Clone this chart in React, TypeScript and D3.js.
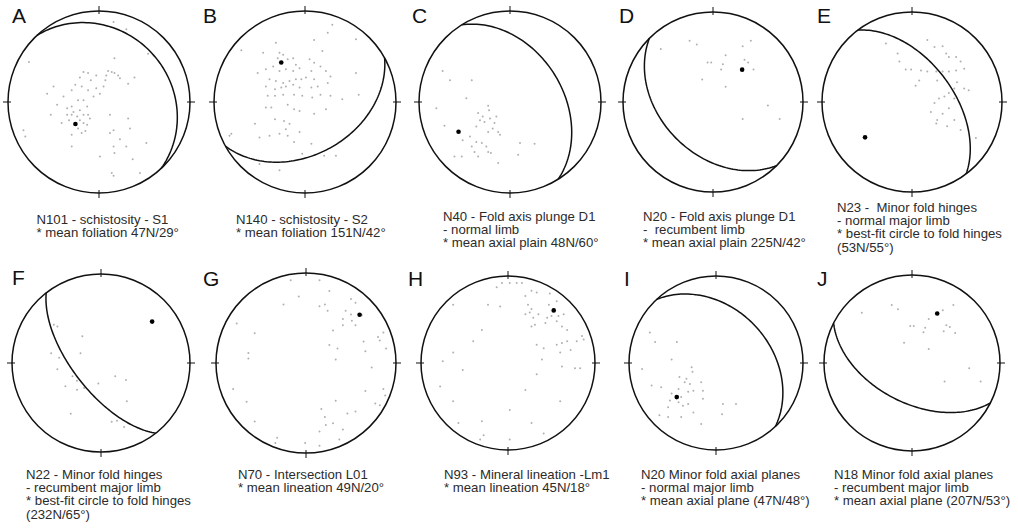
import React from "react";
import * as d3 from "d3";

const W = 1018;
const H = 532;

// panel letters and caption lines
const letters = ["A", "B", "C", "D", "E", "F", "G", "H", "I", "J"];
const captions = [
  ["N101 - schistosity - S1", "* mean foliation 47N/29°"],
  ["N140 - schistosity - S2", "* mean foliation 151N/42°"],
  ["N40 - Fold axis plunge D1", "- normal limb", "* mean axial plain 48N/60°"],
  ["N20 - Fold axis plunge D1", "-  recumbent limb", "* mean axial plain 225N/42°"],
  ["N23 -  Minor fold hinges", "- normal major limb", "* best-fit circle to fold hinges", "(53N/55°)"],
  ["N22 - Minor fold hinges", "- recumbent major limb", "* best-fit circle to fold hinges", "(232N/65°)"],
  ["N70 - Intersection L01", "* mean lineation 49N/20°"],
  ["N93 - Mineral lineation -Lm1", "* mean lineation 45N/18°"],
  ["N20 Minor fold axial planes", "- normal major limb", "* mean axial plane (47N/48°)"],
  ["N18 Minor fold axial planes", "- recumbent major limb", "* mean axial plane (207N/53°)"],
];

// great circles drawn on each net: [dip direction, dip] (null = none)
const planes: ([number, number] | null)[] = [
  [47, 22], [151, 42], [58, 42], [225, 42], [53, 53],
  [232, 65], null, null, [47, 38], [207, 53],
];

// black mean point: [trend, plunge]
const means = [
  [227, 61], [329, 48], [240, 35], [42, 50], [233, 35],
  [51, 27], [48, 21], [41, 21], [229, 40], [27, 37],
];

// grey data points, [east, north] in % of net radius
const ptsA = [[16,88],[30,80],[17,48],[54,53],[60,51],[-77,44],[-17,33],[-12,32],[-21,27],[10,34],[14,33],[17,32],[21,29],[8,29],[7,24],[-3,29],[-9,24],[39,27],[32,20],[23,26],[-3,15],[-12,13],[-19,17],[-26,19],[-30,13],[-39,6],[-50,17],[-57,9],[1,9],[5,17],[-6,6],[-17,2],[-23,2],[-35,-7],[-30,-5],[-28,-11],[-21,-9],[-13,-5],[-35,-14],[-30,-14],[-24,-16],[-17,-14],[-12,-14],[-33,-20],[-21,-20],[-17,-23],[-13,-25],[-10,-18],[-23,-29],[-15,-32],[-30,-36],[-19,-34],[-30,-49],[-46,-3],[-53,-14],[-41,-23],[-83,-31],[-81,-38],[12,-14],[32,-18],[34,-29],[16,-31],[12,-34],[23,-41],[16,-49],[30,-49],[37,-63],[52,-45],[45,-78],[14,-78],[16,-81],[1,-60],[17,-56]];
const ptsB = [[30,85],[25,76],[56,69],[10,68],[-32,65],[-70,57],[-46,54],[-28,54],[-24,52],[-30,48],[-19,47],[-13,48],[19,56],[-10,41],[-6,37],[-35,39],[-43,36],[-52,32],[-28,34],[-21,36],[-13,34],[5,47],[10,43],[17,39],[7,34],[23,34],[28,28],[10,25],[1,27],[-4,25],[-10,25],[-17,23],[-24,21],[-32,23],[-39,25],[-43,17],[-33,14],[-26,16],[-21,17],[-13,19],[-6,16],[7,16],[14,17],[25,21],[56,32],[59,8],[-41,7],[-33,7],[-24,8],[-12,8],[-3,7],[8,5],[17,8],[28,7],[-43,-6],[-37,-6],[-19,-3],[-12,-8],[-6,-10],[10,-13],[-55,-24],[-33,-19],[-23,-21],[-17,-24],[-21,-30],[-28,-35],[-19,-37],[-6,-33],[-12,-44],[-50,-39],[-39,-37],[-83,-37],[7,-46],[21,-59],[34,-59],[-3,-57],[-50,-68],[-28,-75],[23,-8],[41,3],[-81,-35]];
const ptsC = [[-74,34],[-66,24],[-42,24],[-48,4],[-81,-7],[-24,-4],[-23,-9],[-35,-12],[-30,-16],[-33,-20],[-28,-22],[-22,-18],[-15,-16],[-17,-23],[-72,-26],[-37,-27],[-24,-33],[-19,-29],[-13,-33],[-44,-38],[-37,-44],[-31,-45],[-26,-49],[-42,-49],[-39,-55],[-52,-42],[-11,-36],[11,-45],[27,-46],[-61,-60],[-53,-60],[-35,-60],[-24,-55],[-21,-56],[-13,-67],[9,-58]];
const ptsD = [[-26,68],[-18,64],[-58,59],[33,62],[42,68],[14,52],[-6,44],[-2,44],[11,42],[9,36],[35,47],[39,44],[45,36],[-12,25],[14,17],[61,-4],[33,-19],[74,-19]];
const ptsE = [[-29,65],[17,69],[25,61],[34,62],[-16,54],[38,54],[41,50],[49,50],[54,45],[-14,45],[-7,36],[-1,36],[10,35],[17,34],[27,34],[34,34],[41,34],[49,35],[58,37],[8,24],[28,24],[4,18],[47,15],[58,15],[63,13],[41,10],[36,6],[30,4],[47,4],[25,-1],[21,-11],[34,-13],[28,-20],[27,-24],[39,-27],[47,-20],[54,-31],[71,-40],[41,-7],[50,22]];
const ptsF = [[-53,43],[-49,41],[-21,30],[-23,11],[-56,11],[-47,6],[-49,-7],[-32,-15],[-27,-20],[-40,-26],[-27,-30],[-19,-28],[-3,-23],[16,-15],[28,-19],[29,-43],[-34,-57],[12,-66],[18,-65],[26,-72]];
const ptsG = [[-17,92],[15,92],[-8,74],[26,80],[-25,65],[15,63],[21,65],[24,58],[50,71],[55,67],[44,58],[50,54],[41,49],[51,47],[55,42],[-77,44],[62,53],[30,36],[41,42],[86,34],[-57,33],[80,29],[82,25],[26,20],[35,16],[64,24],[66,13],[-64,11],[-64,5],[33,4],[89,16],[73,-5],[66,-31],[86,-29],[88,-36],[-81,-29],[33,-42],[-66,-43],[17,-51],[46,-56],[55,-54],[77,-45],[82,-47],[-57,-65],[21,-60],[22,-69],[30,-67],[15,-76],[41,-74],[-32,-83],[-34,-89],[-1,-89],[15,-92],[37,-85]];
const ptsH = [[-7,92],[2,92],[10,92],[16,92],[-13,87],[27,83],[33,81],[20,77],[48,80],[-63,67],[-23,67],[-9,65],[23,67],[27,62],[47,67],[56,71],[20,56],[25,58],[29,52],[35,56],[45,52],[50,54],[58,54],[64,56],[43,46],[56,48],[27,42],[31,44],[62,42],[68,38],[-30,38],[85,31],[87,27],[79,25],[-40,25],[33,21],[41,17],[56,21],[62,23],[68,25],[-63,12],[60,12],[72,15],[-75,2],[39,4],[62,-4],[77,-6],[83,-6],[-52,-8],[33,-13],[-78,-27],[20,-31],[-63,-44],[2,-54],[60,-44],[-57,-69],[-30,-67],[27,-69],[-28,-83],[-32,-88],[2,-88],[41,-81]];
const ptsI = [[-76,35],[-70,24],[-45,24],[-51,4],[-85,-7],[-28,-5],[-27,-10],[-42,-16],[-34,-18],[-36,-22],[-30,-24],[-17,-22],[-74,-26],[-63,-28],[-43,-30],[-32,-33],[-26,-32],[-15,-32],[-51,-35],[-40,-39],[-53,-43],[-43,-45],[-38,-49],[-32,-47],[-26,-57],[-55,-51],[-65,-60],[-55,-62],[-40,-62],[-15,-41],[8,-47],[23,-47],[7,-59],[-17,-70]];
const ptsJ = [[-57,57],[-23,66],[-16,61],[47,66],[35,60],[19,50],[-2,42],[2,42],[15,40],[13,35],[39,43],[43,41],[49,34],[-9,23],[19,16],[36,36],[65,-6],[37,-21],[78,-21]];
const points = [ptsA, ptsB, ptsC, ptsD, ptsE, ptsF, ptsG, ptsH, ptsI, ptsJ];

// layout
const netX = [99, 305, 510, 713, 912, 101, 306, 508, 716, 912];
const netY = [102, 102, 102, 102, 102, 363, 363, 363, 363, 363];
const netR = [91, 91, 91, 90, 90, 89, 90, 87, 87, 88];
const letterX = [12, 203, 412, 619, 817, 12, 203, 408, 624, 817];
const letterY = [23, 23, 23, 23, 23, 285, 286, 286, 286, 286];
const capX = [36.5, 236, 443, 643, 837, 26, 238, 444, 641, 834];
const capY = [224, 224, 221, 221, 212, 479, 479, 479, 479, 479];

const rad = Math.PI / 180;

// lower-hemisphere equal-area projection, result in % of net radius
function project(trend: number, plunge: number): [number, number] {
  const r = 100 * Math.SQRT2 * Math.sin(((90 - plunge) / 2) * rad);
  return [r * Math.sin(trend * rad), r * Math.cos(trend * rad)];
}

function greatCircle(dd: number, dip: number): [number, number][] {
  const s = (dd - 90) * rad;
  const S = [Math.cos(s), Math.sin(s), 0];
  const D = [Math.cos(dip * rad) * Math.cos(dd * rad), Math.cos(dip * rad) * Math.sin(dd * rad), Math.sin(dip * rad)];
  return d3.range(0, 180.5, 2).map((a) => {
    const c = Math.cos(a * rad), sn = Math.sin(a * rad);
    const v = [c * S[0] + sn * D[0], c * S[1] + sn * D[1], c * S[2] + sn * D[2]];
    const trend = Math.atan2(v[1], v[0]) / rad;
    const plunge = Math.asin(Math.min(1, Math.max(-1, v[2]))) / rad;
    return project(trend, plunge);
  });
}

function Net({ i }: { i: number }) {
  const cx = netX[i], cy = netY[i], R = netR[i];
  const x = d3.scaleLinear().domain([-100, 100]).range([cx - R, cx + R]);
  const y = d3.scaleLinear().domain([-100, 100]).range([cy + R, cy - R]);
  const line = d3.line<[number, number]>().x((d) => x(d[0])).y((d) => y(d[1]));
  const plane = planes[i];
  const m = project(means[i][0], means[i][1]);
  const ticks = [0, 90, 180, 270];
  return (
    <g>
      {points[i].map((p, k) => (
        <circle key={k} cx={x(p[0])} cy={y(p[1])} r={1} fill="#b0b0b0" />
      ))}
      <circle cx={cx} cy={cy} r={R} fill="none" stroke="#111" strokeWidth={1.5} />
      {ticks.map((t) => (
        <line
          key={t}
          x1={cx + (R - 3) * Math.sin(t * rad)}
          y1={cy - (R - 3) * Math.cos(t * rad)}
          x2={cx + (R + 5) * Math.sin(t * rad)}
          y2={cy - (R + 5) * Math.cos(t * rad)}
          stroke="#111"
          strokeWidth={1}
        />
      ))}
      {plane && (
        <path d={line(greatCircle(plane[0], plane[1])) || ""} fill="none" stroke="#111" strokeWidth={1.5} />
      )}
      <circle cx={x(m[0])} cy={y(m[1])} r={2.3} fill="#000" />
      <text x={letterX[i]} y={letterY[i]} fontSize={21} fill="#111" fontFamily="'Liberation Sans', Arial, sans-serif">
        {letters[i]}
      </text>
      {captions[i].map((s, k) => (
        <text
          key={k}
          x={capX[i]}
          y={capY[i] + k * 13.2}
          fontSize={13.2}
          fill="#2b2b2b"
          fontFamily="'Liberation Sans', Arial, sans-serif"
          style={{ whiteSpace: "pre" }}
        >
          {s}
        </text>
      ))}
    </g>
  );
}

export default function App() {
  return (
    <svg width={W} height={H} style={{ position: "absolute", left: 0, top: 0, background: "#fff" }}>
      {letters.map((_, i) => (
        <Net key={i} i={i} />
      ))}
    </svg>
  );
}
